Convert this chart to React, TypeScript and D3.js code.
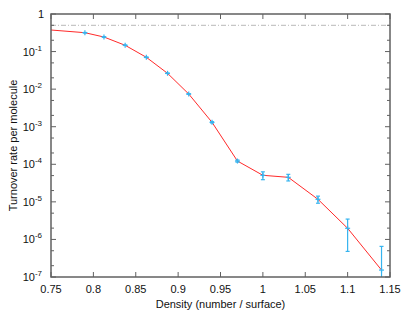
import React from "react";
import * as d3 from "d3";

// measured densities and turnover rates
const density = [0.79, 0.8125, 0.8375, 0.8625, 0.8875, 0.9125, 0.94, 0.97, 1.0, 1.03, 1.065, 1.1, 1.14];
const rate = [0.318, 0.244, 0.147, 0.0704, 0.0264, 0.00743, 1.31e-3, 1.22e-4, 5.09e-5, 4.5e-5, 1.17e-5, 1.98e-6, 1.53e-7];
const rateErr = [0.004, 0.003, 0.002, 0.001, 3e-4, 1e-4, 5e-5, 8e-6, 1.2e-5, 0.9e-5, 2.5e-6, 1.5e-6, 5e-7];

// red guide curve: starts at the left border, then follows the data
const curveX = [0.75, ...density];
const curveY = [0.375, ...rate];

const referenceLevel = 0.5;

const xTicks = [0.75, 0.8, 0.85, 0.9, 0.95, 1, 1.05, 1.1, 1.15];
const yDecades = [0, -1, -2, -3, -4, -5, -6, -7];

const W = 411;
const H = 314;
const m = { left: 51, right: 21, top: 14, bottom: 37 };
const FONT = "'Liberation Sans', Arial, Helvetica, sans-serif";
const AXIS = "#606060";
const BLUE = "#36b4ef";
const RED = "#ff2a2a";

export default function App() {
  const x = d3.scaleLinear().domain([0.75, 1.15]).range([m.left, W - m.right]);
  const y = d3.scaleLog().domain([1e-7, 1]).range([H - m.bottom, m.top]);
  const x0 = m.left, x1 = W - m.right, y0 = H - m.bottom, y1 = m.top;

  const minor: number[] = [];
  yDecades.slice(0, -1).forEach((d) => {
    minor.push(5 * Math.pow(10, d - 1), 2 * Math.pow(10, d - 1));
  });

  const line = d3
    .line<number>()
    .x((_, i) => x(curveX[i]))
    .y((d) => y(d));

  const fmt = (v: number) => (v === 1 ? "1" : String(v));

  return (
    <svg width={W} height={H} style={{ position: "absolute", left: 0, top: 0, background: "#fff" }}>
      <defs>
        <clipPath id="plot">
          <rect x={x0} y={y1} width={x1 - x0} height={y0 - y1} />
        </clipPath>
      </defs>

      {/* reference level */}
      <line x1={x0} x2={x1} y1={y(referenceLevel)} y2={y(referenceLevel)} stroke="#b8b8b8" strokeWidth={1} strokeDasharray="5,2,1,2" />

      {/* ticks */}
      <g stroke={AXIS} strokeWidth={1}>
        {xTicks.map((t) => (
          <g key={"xt" + t}>
            <line x1={x(t)} x2={x(t)} y1={y0} y2={y0 - 5} />
            <line x1={x(t)} x2={x(t)} y1={y1} y2={y1 + 5} />
          </g>
        ))}
        {yDecades.map((d) => (
          <g key={"yt" + d}>
            <line x1={x0} x2={x0 + 5} y1={y(Math.pow(10, d))} y2={y(Math.pow(10, d))} />
            <line x1={x1} x2={x1 - 5} y1={y(Math.pow(10, d))} y2={y(Math.pow(10, d))} />
          </g>
        ))}
        {minor.map((v, i) => (
          <g key={"ym" + i}>
            <line x1={x0} x2={x0 + 3} y1={y(v)} y2={y(v)} />
            <line x1={x1} x2={x1 - 3} y1={y(v)} y2={y(v)} />
          </g>
        ))}
      </g>

      {/* data */}
      <g clipPath="url(#plot)">
        <path d={line(curveY) || ""} fill="none" stroke={RED} strokeWidth={1} />
        {density.map((dx, i) => {
          const cx = x(dx);
          const cy = y(rate[i]);
          const hi = y(rate[i] + rateErr[i]);
          const lo = rate[i] - rateErr[i] > 1e-9 ? y(rate[i] - rateErr[i]) : y0 + 5;
          return (
            <g key={"p" + i} stroke={BLUE} strokeWidth={1.2}>
              <line x1={cx} x2={cx} y1={hi} y2={lo} />
              <line x1={cx - 2} x2={cx + 2} y1={hi} y2={hi} />
              <line x1={cx - 2} x2={cx + 2} y1={lo} y2={lo} />
              <line x1={cx - 2.5} x2={cx + 2.5} y1={cy} y2={cy} />
              <line x1={cx} x2={cx} y1={cy - 2.5} y2={cy + 2.5} />
            </g>
          );
        })}
      </g>

      {/* border */}
      <rect x={x0} y={y1} width={x1 - x0} height={y0 - y1} fill="none" stroke={AXIS} strokeWidth={1.5} />

      {/* tick labels */}
      <g fontFamily={FONT} fontSize={11} fill="#111">
        {xTicks.map((t) => (
          <text key={"xl" + t} x={x(t)} y={y0 + 16} textAnchor="middle">
            {fmt(t)}
          </text>
        ))}
        {yDecades.map((d) =>
          d === 0 ? (
            <text key={"yl" + d} x={44} y={y(1) + 4} textAnchor="end">
              1
            </text>
          ) : (
            <text key={"yl" + d} x={42} y={y(Math.pow(10, d)) + 4} textAnchor="end">
              10
              <tspan fontSize={8} dy={-5}>
                {"-" + -d}
              </tspan>
            </text>
          )
        )}
        <text x={(x0 + x1) / 2} y={H - 6} textAnchor="middle">
          Density (number / surface)
        </text>
        <text transform={`translate(17,${(y0 + y1) / 2}) rotate(-90)`} textAnchor="middle">
          Turnover rate per molecule
        </text>
      </g>
    </svg>
  );
}
